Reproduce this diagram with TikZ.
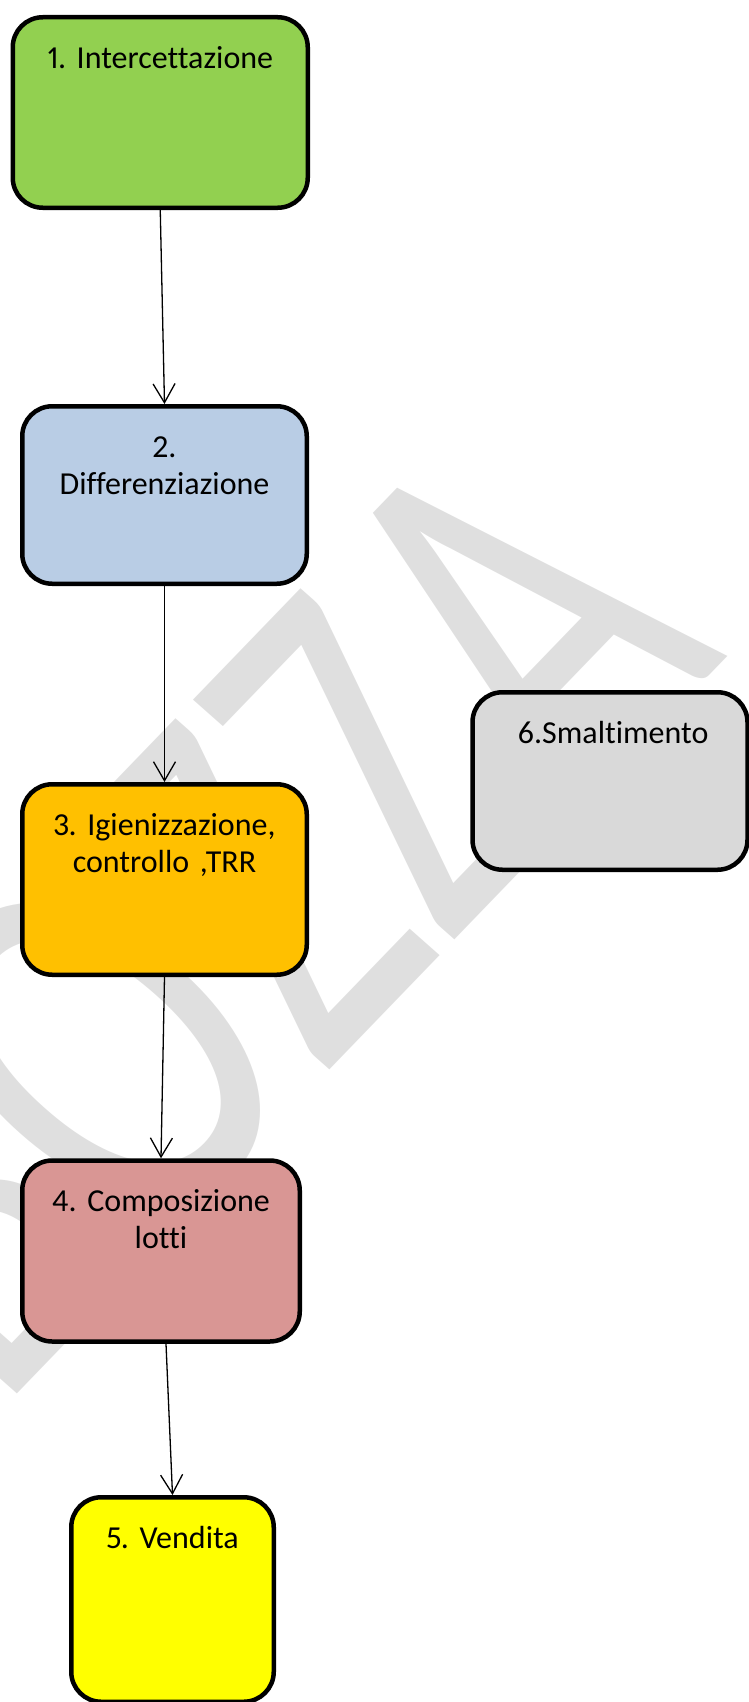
\documentclass[tikz,border=0pt]{standalone}
\usepackage{fontspec}
\setmainfont{Carlito}[Ligatures=NoCommon,Numbers=Proportional]
\newfontfamily\wmfont{Carlito}[Kerning=Off,Ligatures=NoCommon]
\usetikzlibrary{arrows.meta}
\definecolor{cgreen}{HTML}{92D050}
\definecolor{cblue}{HTML}{B9CDE5}
\definecolor{corange}{HTML}{FFC000}
\definecolor{crose}{HTML}{D99694}
\definecolor{cyellow}{HTML}{FFFF00}
\definecolor{cgrey}{HTML}{D9D9D9}
\definecolor{cwater}{HTML}{DFDFDF}
\frenchspacing
\begin{document}
\begin{tikzpicture}[x=1pt,y=-1pt,
  box/.style={draw=black, line width=4.5pt, rounded corners=30pt, inner sep=0pt},
  lbl/.style={anchor=base, inner sep=0pt, text width=280pt, align=center, font=\fontsize{32}{37}\selectfont},
  arr/.style={line width=1.3pt, -{Straight Barb[length=19pt,width=22pt]}},
  wmark/.style={text=cwater, inner sep=0pt, font=\wmfont\fontsize{100}{120}\selectfont}]
\useasboundingbox (0,0) rectangle (749,1702);
% watermark
\node[wmark, anchor=base west, cm={2.685,2.783,-4.144,3.665,(-2.1,1413.56)}] (wm) at (0,0) {BOZZA};
% boxes
\node[box, fill=cgreen, minimum width=295pt, minimum height=190.5pt] (b1) at (160.25,112.5) {};
\node[box, fill=cblue, minimum width=284.5pt, minimum height=177.5pt] (b2) at (164.5,495) {};
\node[box, fill=corange, minimum width=284.5pt, minimum height=190.5pt] (b3) at (164.5,879.5) {};
\node[box, fill=crose, minimum width=277.5pt, minimum height=181pt] (b4) at (161,1251) {};
\node[box, fill=cyellow, minimum width=202.5pt, minimum height=204.5pt] (b5) at (172.5,1599.5) {};
\node[box, fill=cgrey, minimum width=275pt, minimum height=177.5pt] (b6) at (610,781) {};
% labels
\node[lbl] (t1) at ([yshift=-53pt]b1.north) {1. Intercettazione};
\node[lbl] (t2) at ([yshift=-53pt]b2.north) {2.\\Differenziazione};
\node[lbl] (t3) at ([yshift=-53pt]b3.north) {3. Igienizzazione,\\controllo ,TRR};
\node[lbl] (t4) at ([yshift=-53pt]b4.north) {4. Composizione\\lotti};
\node[lbl] (t5) at ([yshift=-53pt]b5.north) {5. Vendita};
\node[lbl] (t6) at ([xshift=3pt,yshift=-53pt]b6.north) {6.Smaltimento};
% connectors
\draw[arr] (b1.south) -- (b2.north);
\draw[arr] (b2.south) -- (b3.north);
\draw[arr] (b3.south) -- (b4.north);
\draw[arr] ([xshift=5pt]b4.south) -- (b5.north);
\end{tikzpicture}
\end{document}
